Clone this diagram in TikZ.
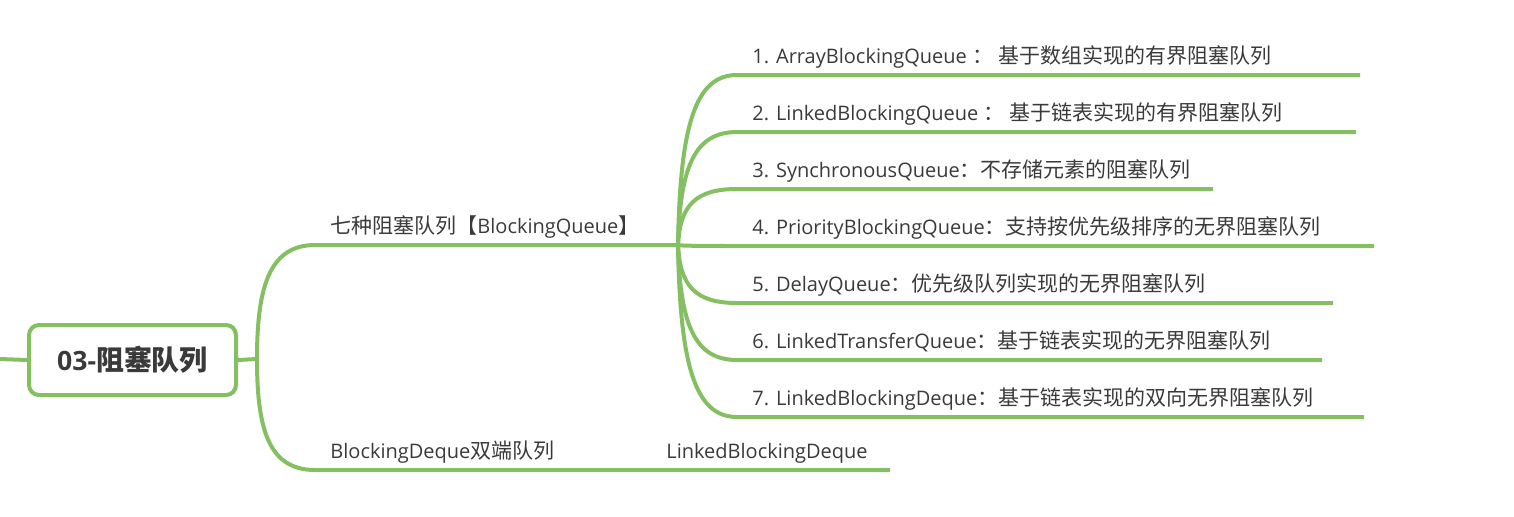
\documentclass[tikz,border=0pt]{standalone}
\usepackage{fontspec}
\setmainfont{Open Sans}
\newfontfamily\cjk[Scale=1.05]{Noto Sans CJK SC}
\usetikzlibrary{positioning}
\definecolor{mindgreen}{RGB}{132,191,98}
\definecolor{inkgray}{RGB}{58,58,58}

\begin{document}
\begin{tikzpicture}[x=0.5pt,y=-0.5pt,
    branch/.style={draw=mindgreen,line width=2pt},
    topic/.style={anchor=base west,inner sep=0pt,text=inkgray,font=\fontsize{10}{12}\selectfont},
    rootbox/.style={draw=mindgreen,line width=2pt,rounded corners=5pt,fill=white,
      minimum width=103.5pt,minimum height=35pt,text=inkgray,
      font=\fontsize{13.3}{16}\selectfont\bfseries}]

    \useasboundingbox (0,0) rectangle (1514,516);

    \node[rootbox] (root) at (132.5,360) {03-{\cjk 阻塞队列}};
    \coordinate (lead) at (0,359);
    \coordinate (split) at (257,359);
    \coordinate (seven) at (315,245);
    \coordinate (fork) at (678,245);
    \coordinate (deque) at (315,470);
    \coordinate (dequeend) at (890,470);

    \draw[branch] (lead) -- (root.west);
    \draw[branch] (root.east) -- (split);
    \draw[branch] (split) .. controls (257,290) and (268,245) .. (seven) -- (fork);
    \draw[branch] (split) .. controls (257,428) and (268,470) .. (deque) -- (dequeend);

    \node[topic] (seventxt) at (330,233) {{\cjk 七种阻塞队列【}BlockingQueue{\cjk 】}};
    \node[topic] (dequetxt) at (330,458) {BlockingDeque{\cjk 双端队列}};
    \node[topic] (linkedtxt) at (666,458) {LinkedBlockingDeque};

    % seven queues
    \foreach \i/\y/\xe/\txt in {
      1/75/1360/{ArrayBlockingQueue {\cjk ：} {\cjk 基于数组实现的有界阻塞队列}},
      2/132/1356/{LinkedBlockingQueue {\cjk ：} {\cjk 基于链表实现的有界阻塞队列}},
      3/189/1213/{SynchronousQueue{\cjk ：不存储元素的阻塞队列}},
      4/246/1374/{PriorityBlockingQueue{\cjk ：支持按优先级排序的无界阻塞队列}},
      5/303/1333/{DelayQueue{\cjk ：优先级队列实现的无界阻塞队列}},
      6/360/1322/{LinkedTransferQueue{\cjk ：基于链表实现的无界阻塞队列}},
      7/417/1364/{LinkedBlockingDeque{\cjk ：基于链表实现的双向无界阻塞队列}}}{
      \coordinate (s\i) at (737,\y);
      \coordinate (e\i) at (\xe,\y);
      \draw[branch] (fork) .. controls (680,{245+0.7*(\y-245)}) and (695,\y) .. (s\i) -- (e\i);
      \node[topic] (q\i) at (752,\y-12) {\i. \txt};
    }

\end{tikzpicture}
\end{document}
